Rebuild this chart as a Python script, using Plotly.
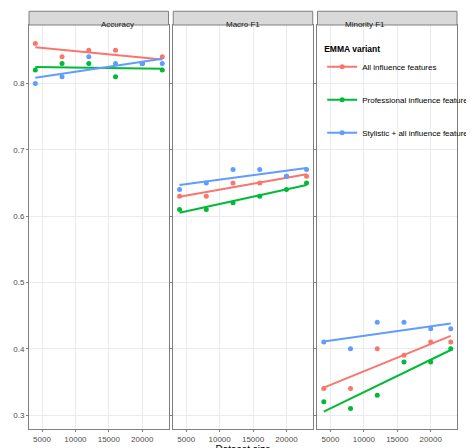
import numpy as np
import plotly.graph_objects as go
from plotly.subplots import make_subplots

sizes = [4000, 8000, 12000, 16000, 20000, 23000]
panels = ["Accuracy", "Macro F1", "Minority F1"]
variants = ["All influence features", "Professional influence features",
            "Stylistic + all influence features"]
colors = ["#F8766D", "#00BA38", "#619CFF"]

# values[panel][variant]
acc_all = [0.86, 0.84, 0.85, 0.85, 0.83, 0.84]
acc_prof = [0.82, 0.83, 0.83, 0.81, 0.83, 0.82]
acc_styl = [0.80, 0.81, 0.84, 0.83, 0.83, 0.83]
mac_all = [0.63, 0.63, 0.65, 0.65, 0.66, 0.66]
mac_prof = [0.61, 0.61, 0.62, 0.63, 0.64, 0.65]
mac_styl = [0.64, 0.65, 0.67, 0.67, 0.66, 0.67]
min_all = [0.34, 0.34, 0.40, 0.39, 0.41, 0.41]
min_prof = [0.32, 0.31, 0.33, 0.38, 0.38, 0.40]
min_styl = [0.41, 0.40, 0.44, 0.44, 0.43, 0.43]

data = [[acc_all, acc_prof, acc_styl],
        [mac_all, mac_prof, mac_styl],
        [min_all, min_prof, min_styl]]

fig = make_subplots(rows=1, cols=3, shared_yaxes=True, horizontal_spacing=0.011)
x = np.array(sizes)
for c, series in enumerate(data):
    for v, ys in enumerate(series):
        fig.add_trace(go.Scatter(x=sizes, y=ys, mode="markers",
                                 marker=dict(color=colors[v], size=5),
                                 showlegend=False), row=1, col=c + 1)
        k, b = np.polyfit(x, ys, 1)
        fig.add_trace(go.Scatter(x=[x.min(), x.max()], y=[k * x.min() + b, k * x.max() + b],
                                 mode="lines", line=dict(color=colors[v], width=2),
                                 showlegend=False), row=1, col=c + 1)

# legend entries
for v, name in enumerate(variants):
    fig.add_trace(go.Scatter(x=[None], y=[None], mode="lines+markers", name=name,
                             legendgroup=name,
                             line=dict(color=colors[v], width=2),
                             marker=dict(color=colors[v], size=5)))

axis_style = dict(showgrid=True, gridcolor="#ebebeb", mirror=True, showline=True,
                  linecolor="#7f7f7f", linewidth=1, ticks="outside", ticklen=2,
                  tickcolor="#7f7f7f", tickfont=dict(size=8, color="#4d4d4d"),
                  zeroline=False)
fig.update_xaxes(range=[3055, 23934], tickvals=[5000, 10000, 15000, 20000],
                 tickformat="d", **axis_style)
fig.update_yaxes(range=[0.279, 0.888], dtick=0.1, tickformat=".1f", **axis_style)
fig.update_xaxes(title=dict(text="Dataset size", font=dict(size=10, color="black"), standoff=0),
                 row=1, col=2)

# facet strips
for i in range(3):
    xa = fig.layout["xaxis" if i == 0 else f"xaxis{i + 1}"]
    d = xa.domain
    fig.add_shape(type="rect", xref="paper", yref="paper", x0=d[0], x1=d[1],
                  y0=1.0, y1=1.034, fillcolor="#d9d9d9",
                  line=dict(color="#7f7f7f", width=1))
    fig.add_annotation(text=panels[i], xref="paper", yref="paper",
                       x=(d[0] + d[1]) / 2, y=1.017, showarrow=False,
                       font=dict(size=8, color="#1a1a1a"))

fig.update_layout(
    width=474, height=448,
    margin=dict(l=16, r=5, t=17, b=23),
    plot_bgcolor="white", paper_bgcolor="white",
    font=dict(family="Liberation Sans, Arial, sans-serif"),
    legend=dict(x=0.685, y=0.96, xanchor="left", yanchor="top",
                bgcolor="rgba(0,0,0,0)", tracegroupgap=14, itemwidth=30,
                font=dict(size=8, color="black"),
                title=dict(text="<b>EMMA variant</b>", font=dict(size=8.5))),
)

fig.write_html("out.html")
